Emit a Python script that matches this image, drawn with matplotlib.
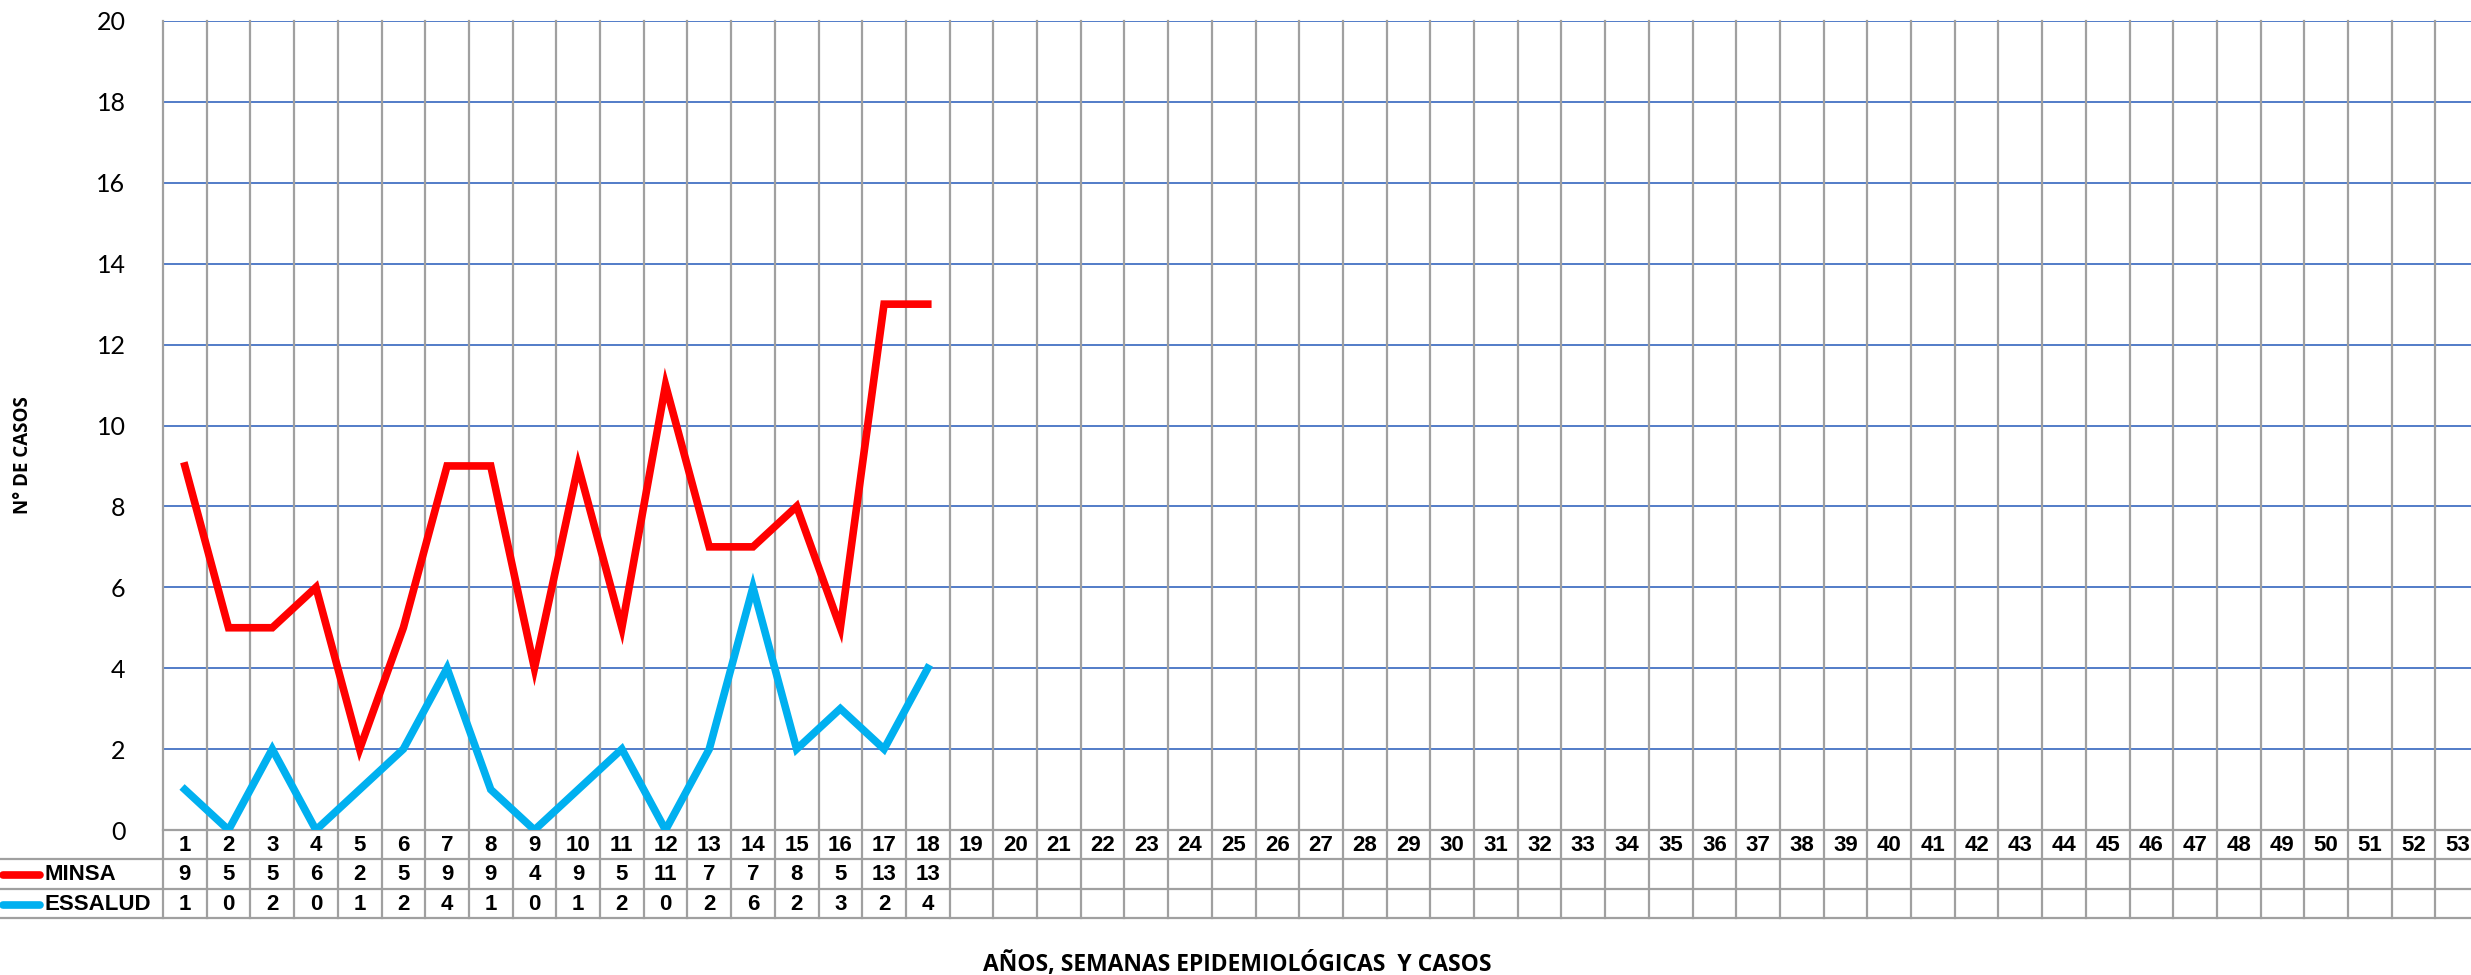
import matplotlib
matplotlib.use("Agg")
import matplotlib.pyplot as plt
from matplotlib.lines import Line2D
from matplotlib.transforms import blended_transform_factory

# ---- data ----
weeks = list(range(1, 54))
minsa = [9, 5, 5, 6, 2, 5, 9, 9, 4, 9, 5, 11, 7, 7, 8, 5, 13, 13]
essalud = [1, 0, 2, 0, 1, 2, 4, 1, 0, 1, 2, 0, 2, 6, 2, 3, 2, 4]
series_names = ["MINSA", "ESSALUD"]
series_colors = ["#FF0000", "#00B0F0"]
y_ticks = list(range(0, 21, 2))
y_label = "N° DE CASOS"
x_label = "AÑOS, SEMANAS EPIDEMIOLÓGICAS  Y CASOS"

W, H = 2471, 975
fig = plt.figure(figsize=(W / 100, H / 100), dpi=100)

left_px, top_px, bottom_px = 163, 21, 830
col_w = 43.7
ax = fig.add_axes([left_px / W, (H - bottom_px) / H,
                   len(weeks) * col_w / W, (bottom_px - top_px) / H])
ax.set_xlim(0.5, len(weeks) + 0.5)
ax.set_ylim(0, 20)
for s in ax.spines.values():
    s.set_visible(False)

grid_blue = "#4472C4"
grid_gray = "#A0A0A0"
for yv in y_ticks[1:]:
    ax.axhline(yv, color=grid_blue, lw=1.3, zorder=1)

ax_h = bottom_px - top_px
def yfrac(py):
    return (bottom_px - py) / ax_h

row_edges = [830, 859, 889, 918]
# vertical grid lines through plot & table
for k in range(len(weeks) + 1):
    ax.axvline(k + 0.5, ymin=yfrac(918), ymax=1, color=grid_gray, lw=1.6,
               clip_on=False, zorder=1)

trans = blended_transform_factory(ax.transData, ax.transAxes)
# horizontal table lines
ax.plot([0.5, len(weeks) + 0.5], [0, 0], transform=trans, color=grid_gray,
        lw=1.6, clip_on=False, zorder=1)
for py in row_edges[1:]:
    fig.add_artist(Line2D([0, 1], [(H - py) / H] * 2, color=grid_gray, lw=1.6,
                          transform=fig.transFigure))

# lines
ax.plot(weeks[:len(minsa)], minsa, color=series_colors[0], lw=5.5,
        solid_joinstyle="miter", zorder=3)
ax.plot(weeks[:len(essalud)], essalud, color=series_colors[1], lw=5.5,
        solid_joinstyle="miter", zorder=3)

# table text
tfont = dict(family="Liberation Sans", weight="bold", fontsize=16,
             ha="center", va="center")
row_c = [(row_edges[i] + row_edges[i + 1]) / 2 + 1 for i in range(3)]
for w in weeks:
    ax.text(w, yfrac(row_c[0]), str(w), transform=trans, **tfont)
for w, v in zip(weeks, minsa):
    ax.text(w, yfrac(row_c[1]), str(v), transform=trans, **tfont)
for w, v in zip(weeks, essalud):
    ax.text(w, yfrac(row_c[2]), str(v), transform=trans, **tfont)

# legend keys in table
for i, name in enumerate(series_names):
    yc = (H - row_c[i + 1]) / H
    fig.add_artist(Line2D([3 / W, 40 / W], [yc, yc], color=series_colors[i],
                          lw=5.5, solid_capstyle="round",
                          transform=fig.transFigure))
    fig.text(44 / W, yc, name, family="Liberation Sans", weight="bold",
             fontsize=16, ha="left", va="center")

# y ticks
ax.set_yticks(y_ticks)
ax.set_xticks([])
ax.tick_params(axis="y", length=0, pad=27)
for lab in ax.get_yticklabels():
    lab.set_fontfamily("Lato")
    lab.set_fontsize(18)

fig.text(23 / W, (H - 455) / H, y_label, rotation=90, family="Open Sans",
         weight="bold", fontsize=13.5, ha="center", va="center")
fig.text(1237 / W, (H - 964) / H, x_label, family="Open Sans",
         weight="bold", fontsize=16.5, ha="center", va="center")

fig.savefig("out.png", dpi=100)
